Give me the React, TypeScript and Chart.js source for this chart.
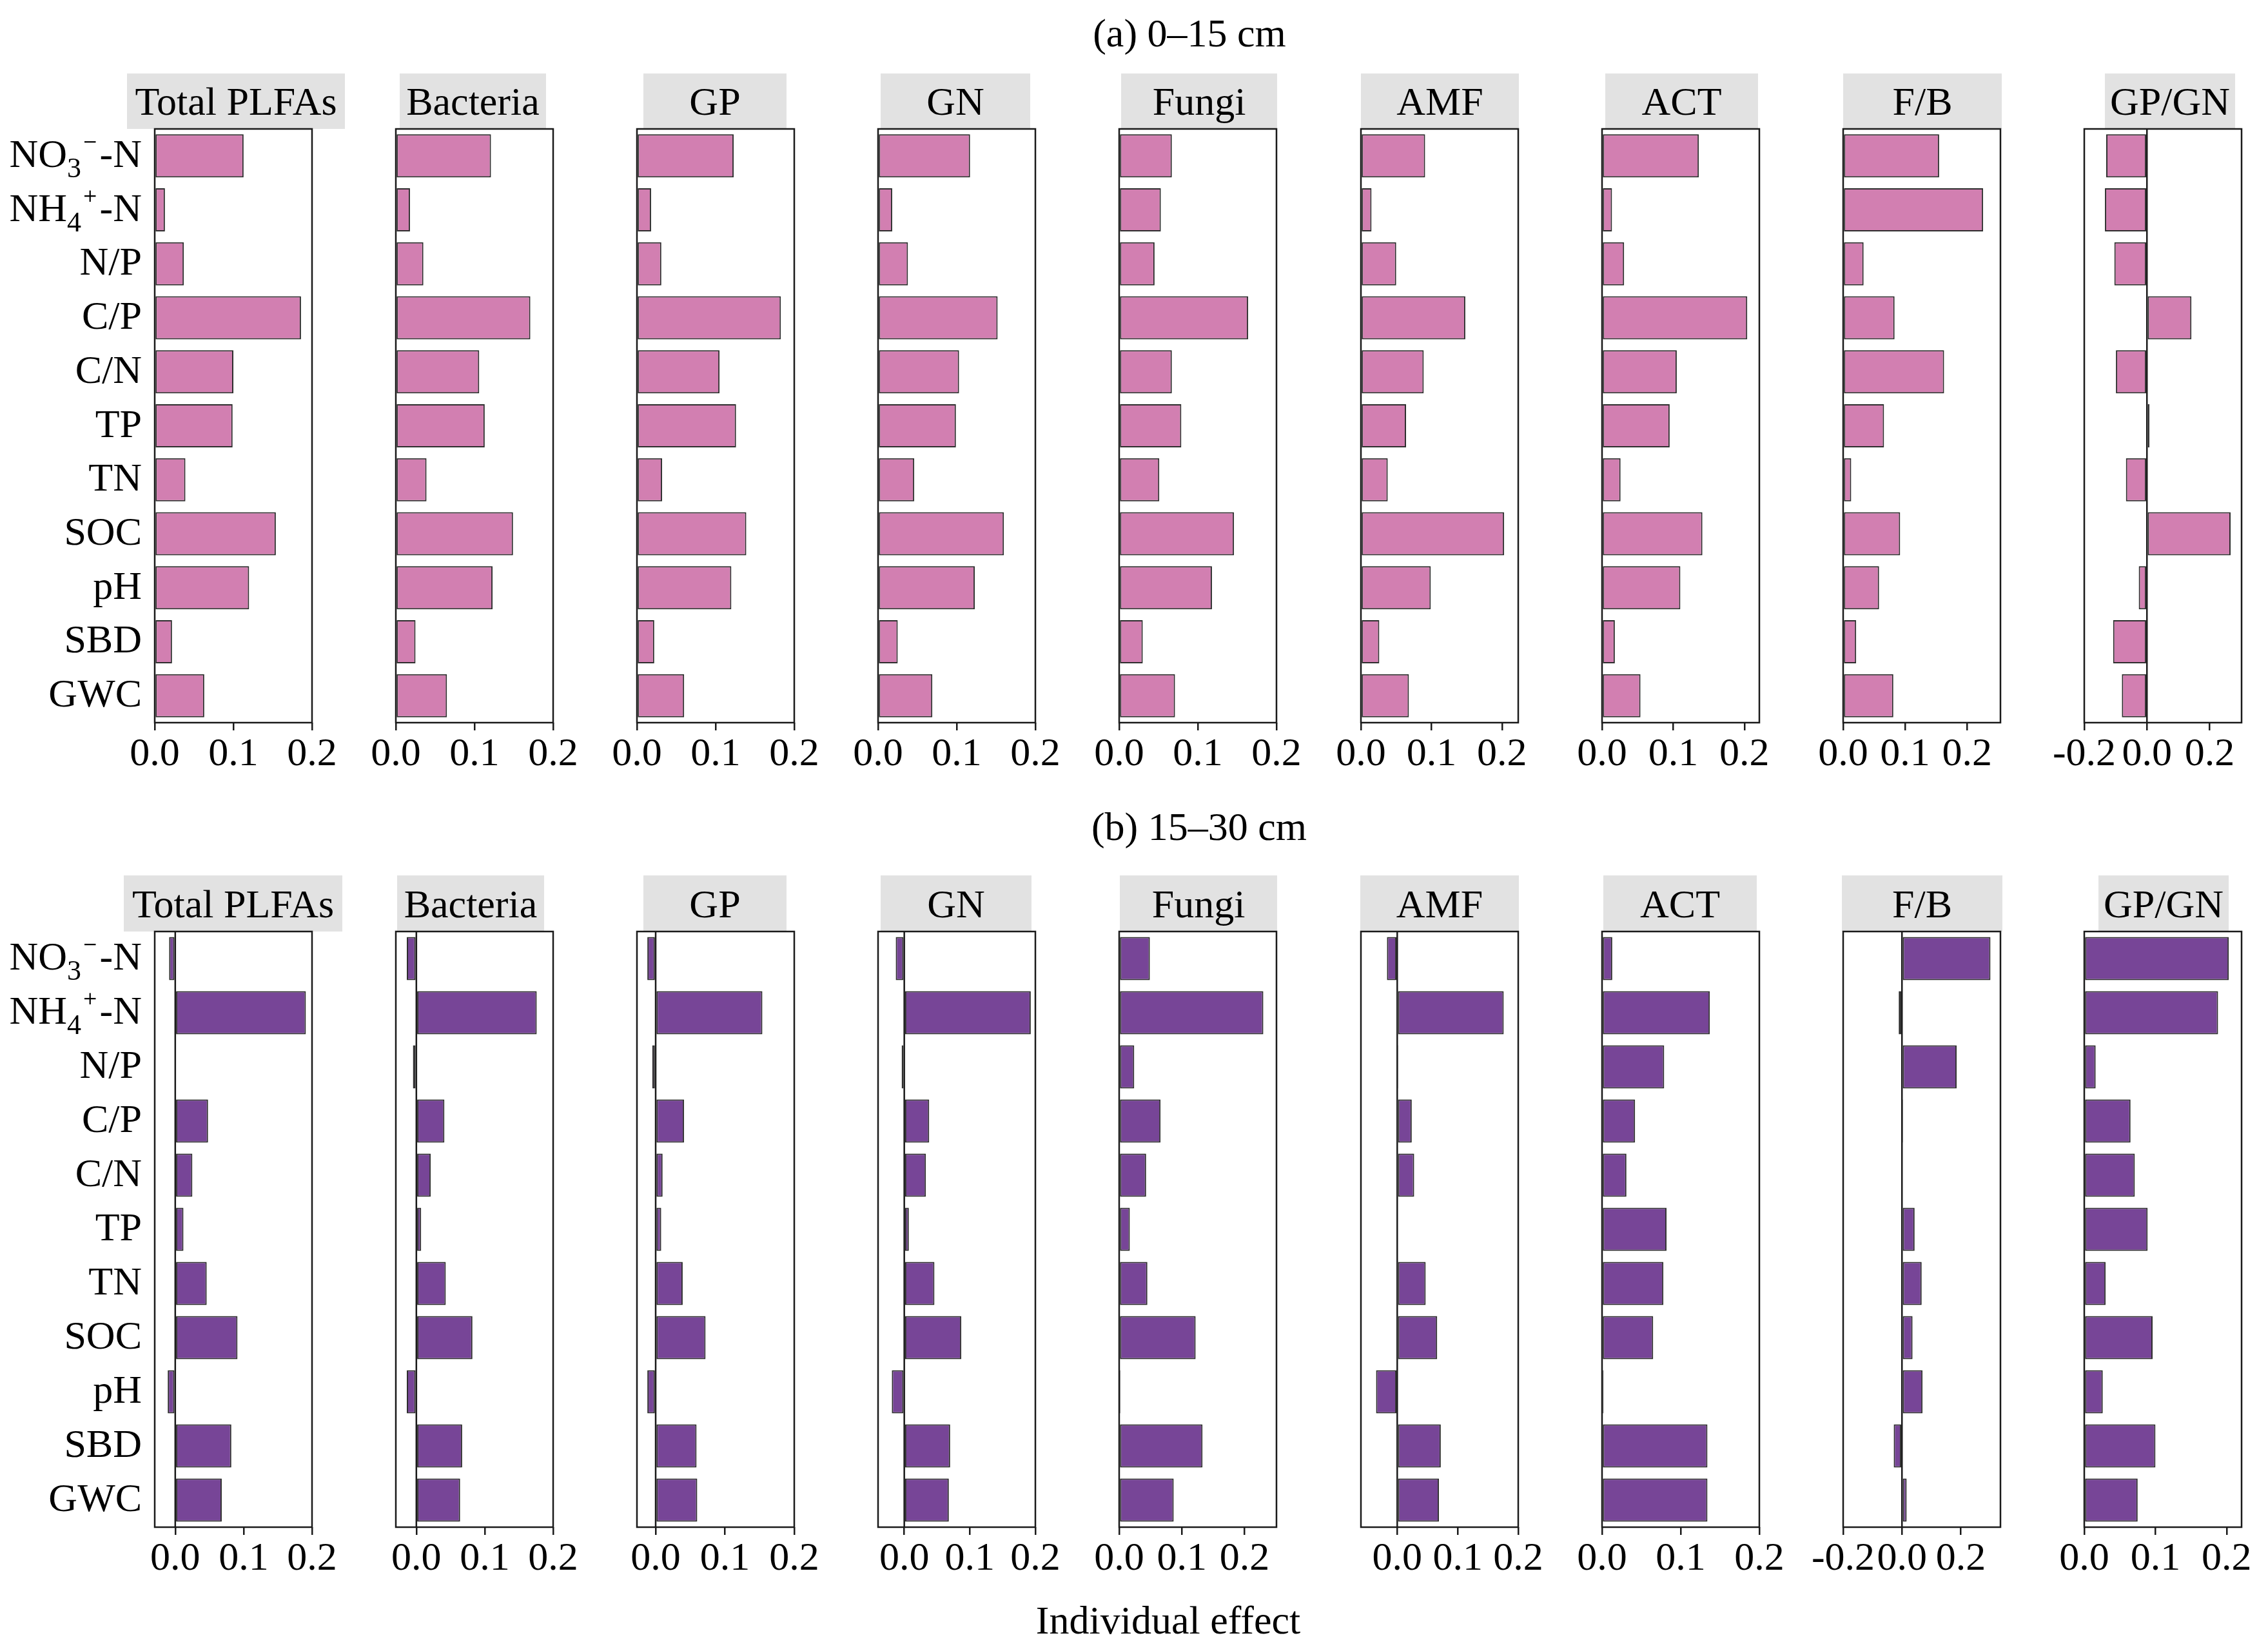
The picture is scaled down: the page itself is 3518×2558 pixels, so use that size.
import { useEffect, useRef } from 'react';
import { Chart, registerables } from 'chart.js';

Chart.register(...registerables);

const FONT = "'Liberation Serif', 'Times New Roman', serif";
const SUP_FONT = "'DejaVu Serif', 'Liberation Serif', serif";
const FONT_SIZE = 62;
const SUB_SIZE = 44;
const SUP_SIZE = 28;

// Soil factors, top to bottom. _{..} marks a subscript, ^{..} a superscript.
const factorMarkup = ['NO_{3}^{−}-N', 'NH_{4}^{+}-N', 'N/P', 'C/P', 'C/N', 'TP', 'TN', 'SOC', 'pH', 'SBD', 'GWC'];

// Microbial groups, left to right
const groups = ['Total PLFAs', 'Bacteria', 'GP', 'GN', 'Fungi', 'AMF', 'ACT', 'F/B', 'GP/GN'];

const depthTitles = ['(a) 0–15 cm', '(b) 15–30 cm'];
const xAxisTitle = 'Individual effect';

// Individual effects, 0–15 cm
const totalPlfas0 = [0.113, 0.013, 0.037, 0.186, 0.100, 0.099, 0.039, 0.154, 0.120, 0.022, 0.063];
const bacteria0 = [0.121, 0.018, 0.035, 0.171, 0.106, 0.113, 0.039, 0.149, 0.123, 0.025, 0.065];
const gp0 = [0.123, 0.018, 0.031, 0.183, 0.105, 0.126, 0.032, 0.139, 0.120, 0.022, 0.060];
const gn0 = [0.117, 0.018, 0.038, 0.152, 0.103, 0.099, 0.046, 0.160, 0.123, 0.025, 0.069];
const fungi0 = [0.067, 0.053, 0.045, 0.164, 0.067, 0.079, 0.051, 0.146, 0.118, 0.030, 0.071];
const amf0 = [0.091, 0.015, 0.050, 0.148, 0.089, 0.064, 0.038, 0.203, 0.099, 0.026, 0.068];
const act0 = [0.136, 0.014, 0.031, 0.204, 0.105, 0.095, 0.026, 0.141, 0.110, 0.018, 0.054];
const fb0 = [0.155, 0.226, 0.033, 0.083, 0.163, 0.066, 0.013, 0.092, 0.058, 0.021, 0.081];
const gpgn0 = [-0.130, -0.134, -0.104, 0.142, -0.099, 0.008, -0.067, 0.267, -0.026, -0.108, -0.080];

// Individual effects, 15–30 cm
const totalPlfas1 = [-0.009, 0.191, 0, 0.048, 0.025, 0.012, 0.046, 0.091, -0.011, 0.082, 0.068];
const bacteria1 = [-0.014, 0.176, -0.005, 0.041, 0.021, 0.007, 0.043, 0.082, -0.014, 0.067, 0.064];
const gp1 = [-0.012, 0.154, -0.005, 0.041, 0.010, 0.008, 0.039, 0.072, -0.012, 0.059, 0.060];
const gn1 = [-0.013, 0.193, -0.004, 0.038, 0.033, 0.007, 0.046, 0.087, -0.019, 0.070, 0.068];
const fungi1 = [0.049, 0.230, 0.024, 0.066, 0.043, 0.017, 0.045, 0.122, 0.002, 0.133, 0.087];
const amf1 = [-0.017, 0.176, 0.002, 0.024, 0.028, 0, 0.047, 0.066, -0.035, 0.072, 0.069];
const act1 = [0.013, 0.137, 0.079, 0.042, 0.031, 0.082, 0.078, 0.065, 0.002, 0.134, 0.134];
const fb1 = [0.301, -0.011, 0.186, 0.004, 0, 0.043, 0.067, 0.036, 0.070, -0.028, 0.016];
const gpgn1 = [0.203, 0.188, 0.016, 0.065, 0.071, 0.089, 0.030, 0.096, 0.026, 0.100, 0.075];

// x-axis limits per panel
const limits0 = [[0, 0.2], [0, 0.2], [0, 0.2], [0, 0.2], [0, 0.2], [0, 0.223], [0, 0.221], [0, 0.254], [-0.2, 0.302]];
const limits1 = [[-0.03, 0.2], [-0.03, 0.2], [-0.027, 0.2], [-0.04, 0.2], [0, 0.251], [-0.06, 0.2], [0, 0.2], [-0.2, 0.335], [0, 0.221]];

// x-axis tick values
const ticksPos = [0, 0.1, 0.2];
const ticksSym = [-0.2, 0, 0.2];
const ticks0 = [ticksPos, ticksPos, ticksPos, ticksPos, ticksPos, ticksPos, ticksPos, ticksPos, ticksSym];
const ticks1 = [ticksPos, ticksPos, ticksPos, ticksPos, ticksPos, ticksPos, ticksPos, ticksSym, ticksPos];

const values0 = [totalPlfas0, bacteria0, gp0, gn0, fungi0, amf0, act0, fb0, gpgn0];
const values1 = [totalPlfas1, bacteria1, gp1, gn1, fungi1, amf1, act1, fb1, gpgn1];

const rowColors = ['#D27FB1', '#774597'];

// ---- layout (page pixels) ----
const PANEL_X0 = 240;
const PANEL_STEP = 374.1;
const PANEL_W = 244;
const AXIS_H = 110;
const PAD_SIDE = 60;
const ROW_LAYOUT = [
  { plotTop: 200, plotH: 921, stripH: 86 },
  { plotTop: 1445, plotH: 924, stripH: 87 },
];
// strip label box edges relative to the panel's left / right edge
const stripInset0 = [[-43, 51], [6, -11], [10, -12], [4, -8], [3, 1], [0, 1], [5, -2], [0, 2], [32, -10]];
const stripInset1 = [[-48, 47], [2, -14], [10, -12], [4, -6], [1, 1], [-1, 1], [2, -4], [-2, 3], [22, -20]];

type Seg = { text: string; kind: 'n' | 'sub' | 'sup' };

function parseMarkup(s: string): Seg[] {
  const out: Seg[] = [];
  const re = /_\{([^}]*)\}|\^\{([^}]*)\}|([^_^]+)/g;
  let m: RegExpExecArray | null;
  while ((m = re.exec(s))) {
    if (m[1] !== undefined) out.push({ text: m[1], kind: 'sub' });
    else if (m[2] !== undefined) out.push({ text: m[2], kind: 'sup' });
    else out.push({ text: m[3], kind: 'n' });
  }
  return out;
}

const factorSegs = factorMarkup.map(parseMarkup);
const factorNames = factorSegs.map((segs) => segs.map((s) => s.text).join(''));

type Panel = {
  key: string;
  row: number;
  col: number;
  title: string;
  values: number[];
  limits: number[];
  ticks: number[];
  color: string;
  inset: number[];
  canvasLeft: number;
  canvasTop: number;
  width: number;
  height: number;
  padL: number;
};

const panels: Panel[] = [];
[values0, values1].forEach((rowVals, row) => {
  const lay = ROW_LAYOUT[row];
  rowVals.forEach((vals, col) => {
    const panelLeft = Math.round(PANEL_X0 + col * PANEL_STEP);
    const padL = col === 0 ? panelLeft : PAD_SIDE;
    panels.push({
      key: `${row}-${col}`,
      row,
      col,
      title: groups[col],
      values: vals,
      limits: (row === 0 ? limits0 : limits1)[col],
      ticks: (row === 0 ? ticks0 : ticks1)[col],
      color: rowColors[row],
      inset: (row === 0 ? stripInset0 : stripInset1)[col],
      canvasLeft: panelLeft - padL,
      canvasTop: lay.plotTop - lay.stripH,
      width: padL + PANEL_W + PAD_SIDE,
      height: lay.stripH + lay.plotH + AXIS_H,
      padL,
    });
  });
});

function drawRichLabel(ctx: CanvasRenderingContext2D, segs: Seg[], rightX: number, baseline: number) {
  const fontFor = (k: Seg['kind']) =>
    k === 'n' ? `${FONT_SIZE}px ${FONT}` : k === 'sub' ? `${SUB_SIZE}px ${FONT}` : `${SUP_SIZE}px ${SUP_FONT}`;
  const gapAfter = (k: Seg['kind']) => (k === 'sub' ? 2 : k === 'sup' ? 3 : 0);
  let total = 0;
  segs.forEach((s) => {
    ctx.font = fontFor(s.kind);
    total += ctx.measureText(s.text).width + gapAfter(s.kind);
  });
  let x = rightX - total;
  ctx.textAlign = 'left';
  ctx.textBaseline = 'alphabetic';
  segs.forEach((s) => {
    ctx.font = fontFor(s.kind);
    const dy = s.kind === 'sub' ? 16 : s.kind === 'sup' ? -30 : 0;
    ctx.fillText(s.text, x, baseline + dy);
    x += ctx.measureText(s.text).width + gapAfter(s.kind);
  });
}

function makeChart(canvas: HTMLCanvasElement, p: Panel) {
  const lay = ROW_LAYOUT[p.row];
  const panelDecor = {
    id: `panelDecor${p.key}`,
    afterDraw(chart: Chart) {
      const ctx = chart.ctx;
      const { left, top, right, bottom } = chart.chartArea;
      const x = chart.scales.x;
      const y = chart.scales.y;
      ctx.save();
      // strip with the group name
      const sx0 = left + p.inset[0];
      const sx1 = right + p.inset[1];
      ctx.fillStyle = '#E2E2E2';
      ctx.fillRect(sx0, 0, sx1 - sx0, top);
      ctx.fillStyle = '#000';
      ctx.font = `${FONT_SIZE}px ${FONT}`;
      ctx.textAlign = 'center';
      ctx.textBaseline = 'alphabetic';
      ctx.fillText(p.title, (sx0 + sx1) / 2, top / 2 + 21);
      // zero reference line
      ctx.strokeStyle = '#1a1a1a';
      ctx.lineWidth = 2.5;
      if (x.min < 0 && x.max > 0) {
        const zx = x.getPixelForValue(0);
        ctx.beginPath();
        ctx.moveTo(zx, top);
        ctx.lineTo(zx, bottom);
        ctx.stroke();
      }
      // panel frame
      ctx.strokeRect(left, top, right - left, bottom - top);
      // factor labels on the first column
      if (p.col === 0) {
        ctx.fillStyle = '#000';
        factorSegs.forEach((segs, i) => {
          const cy = y.getPixelForValue(i);
          drawRichLabel(ctx, segs, left - 20, cy + 17);
        });
      }
      ctx.restore();
    },
  };

  return new Chart(canvas, {
    type: 'bar',
    data: {
      labels: factorNames,
      datasets: [
        {
          data: p.values,
          backgroundColor: p.color,
          borderColor: '#2e2e2e',
          borderWidth: 2,
          borderSkipped: false,
          barPercentage: 0.8,
          categoryPercentage: 1,
        },
      ],
    },
    options: {
      animation: false,
      responsive: false,
      devicePixelRatio: 1,
      indexAxis: 'y',
      layout: { padding: { left: p.padL, right: PAD_SIDE, top: lay.stripH, bottom: 0 } },
      plugins: {
        legend: { display: false },
        tooltip: { enabled: false },
        title: { display: false },
      },
      scales: {
        x: {
          type: 'linear',
          position: 'bottom',
          min: p.limits[0],
          max: p.limits[1],
          afterBuildTicks: (scale: any) => {
            scale.ticks = p.ticks.map((v) => ({ value: v }));
          },
          afterFit: (scale: any) => {
            scale.height = AXIS_H;
          },
          grid: {
            display: true,
            drawOnChartArea: false,
            drawTicks: true,
            tickLength: 12,
            tickWidth: 2.5,
            tickColor: '#1a1a1a',
            color: '#1a1a1a',
            lineWidth: 2.5,
          },
          border: { display: false },
          ticks: {
            color: '#000',
            font: { family: FONT, size: FONT_SIZE, lineHeight: 1 },
            padding: 7,
            maxRotation: 0,
            minRotation: 0,
            autoSkip: false,
            callback: (v: any) => Number(v).toFixed(1),
          },
        },
        y: {
          type: 'category',
          display: false,
          offset: true,
          grid: { display: false },
        },
      },
    },
    plugins: [panelDecor],
  } as any);
}

const textStyle = (cx: number, cy: number): React.CSSProperties => ({
  position: 'absolute',
  left: cx - 500,
  width: 1000,
  top: cy - 31,
  height: 62,
  lineHeight: '62px',
  fontSize: FONT_SIZE,
  fontFamily: FONT,
  textAlign: 'center',
  color: '#000',
  whiteSpace: 'nowrap',
});

export default function App() {
  const canvasRefs = useRef<(HTMLCanvasElement | null)[]>([]);

  useEffect(() => {
    document.body.style.margin = '0';
    const charts: Chart[] = [];
    panels.forEach((p, i) => {
      const c = canvasRefs.current[i];
      if (c) charts.push(makeChart(c, p));
    });
    return () => charts.forEach((c) => c.destroy());
  }, []);

  return (
    <div style={{ position: 'absolute', left: 0, top: 0, width: 3518, height: 2558, background: '#fff', overflow: 'hidden' }}>
      <div style={textStyle(1845, 51)}>{depthTitles[0]}</div>
      <div style={textStyle(1860, 1282)}>{depthTitles[1]}</div>
      <div style={textStyle(1812, 2513)}>{xAxisTitle}</div>
      {panels.map((p, i) => (
        <canvas
          key={p.key}
          ref={(el) => {
            canvasRefs.current[i] = el;
          }}
          width={p.width}
          height={p.height}
          style={{ position: 'absolute', left: p.canvasLeft, top: p.canvasTop, width: p.width, height: p.height }}
        />
      ))}
    </div>
  );
}
